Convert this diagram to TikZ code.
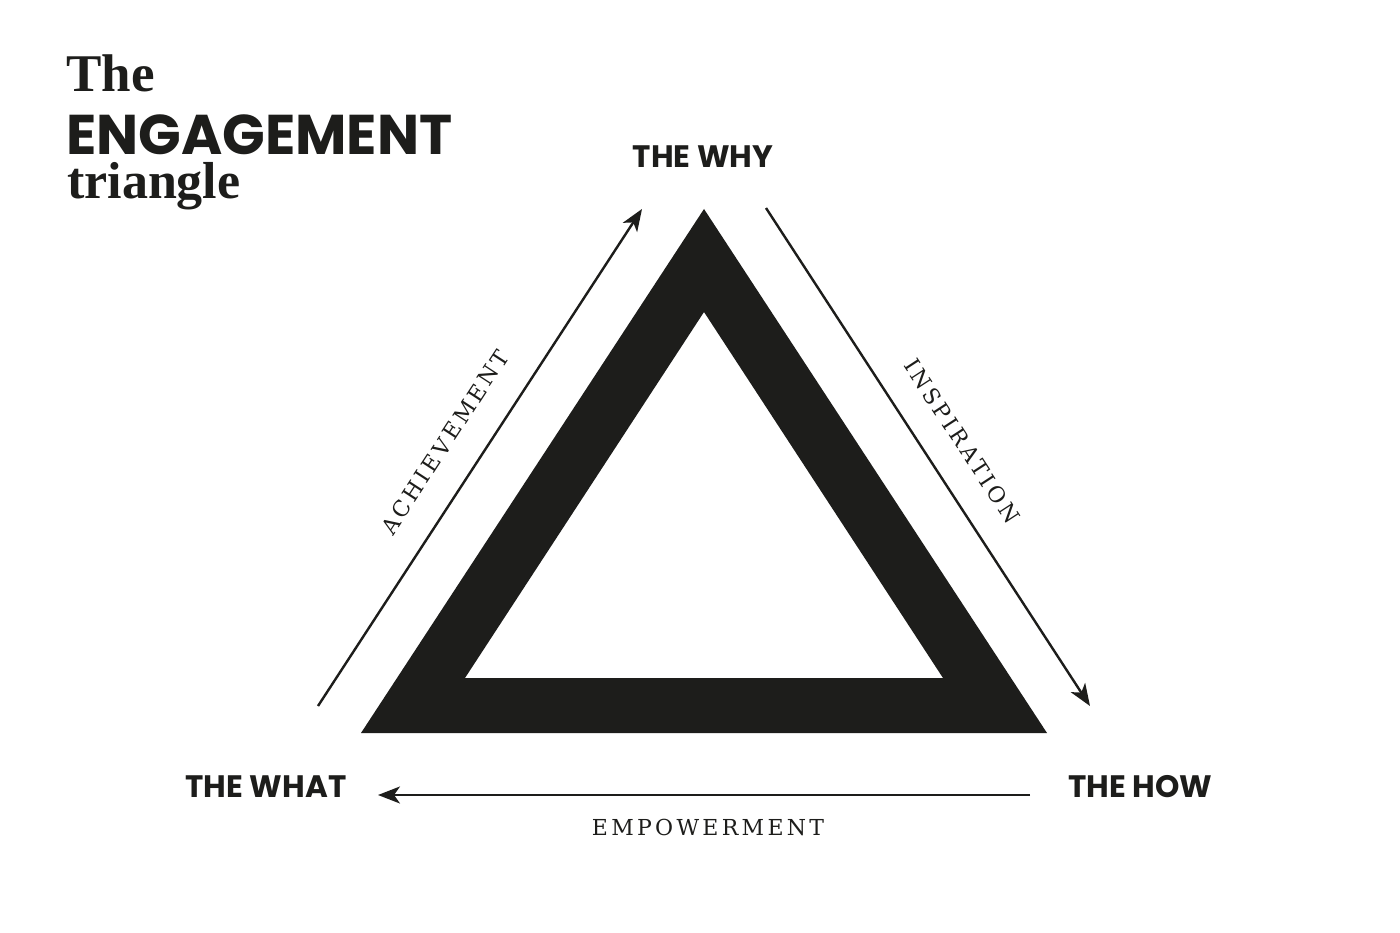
\documentclass[tikz,border=0pt]{standalone}
\usepackage{fontspec}
\usetikzlibrary{arrows.meta}
\newfontfamily\labfont{Poppins}[UprightFont=* Bold]
\newfontfamily\titleserif{Liberation Serif}[UprightFont=* Bold]
\newfontfamily\trackfont{DejaVu Serif}[LetterSpace=15]
\definecolor{ink}{HTML}{1D1D1B}
\tikzset{
  biglabel/.style={font=\labfont\fontsize{31}{34}\selectfont, text=ink, inner sep=0pt, anchor=base},
  titleline/.style={anchor=base west, inner sep=0pt, text=ink},
  flowlabel/.style={font=\trackfont\fontsize{22}{24}\selectfont, text=ink, inner sep=0pt},
  flow/.style={line width=2.4pt, draw=ink, -{Stealth[length=22pt,width=17pt,inset=6pt]}},
}
\begin{document}
\begin{tikzpicture}[x=1pt,y=-1pt]
\useasboundingbox[fill=white] (0,0) rectangle (1400,933);
% title
\node[titleline, font=\titleserif\fontsize{53}{58}\selectfont] (tThe) at (66,92) {The};
\node[titleline, font=\labfont\fontsize{56}{60}\selectfont] (tEng) at (66,155) {ENGAGEMENT};
\node[titleline, font=\titleserif\fontsize{52}{58}\selectfont] (tTri) at (67,199) {triangle};
% triangle
\coordinate (oA) at (704,209);
\coordinate (oL) at (361,733);
\coordinate (oR) at (1047,733);
\coordinate (iA) at (704,312);
\coordinate (iL) at (465,678);
\coordinate (iR) at (943,678);
\fill[ink, even odd rule] (oA) -- (oL) -- (oR) -- cycle (iA) -- (iL) -- (iR) -- cycle;
% corner labels
\node[biglabel] (why) at (703,168) {THE WHY};
\node[biglabel] (what) at (266,797) {THE WHAT};
\node[biglabel] (how) at (1140,797) {THE HOW};
% arrows
\coordinate (a1) at (318,706);
\coordinate (a2) at (642,209);
\coordinate (b1) at (766,208);
\coordinate (b2) at (1090,706);
\coordinate (c1) at (1030,795);
\coordinate (c2) at (378,795);
\draw[flow] (a1) -- (a2);
\draw[flow] (b1) -- (b2);
\draw[flow] (c1) -- (c2);
% flow labels
\node[flowlabel, rotate=56.9] (ach) at (445,442) {ACHIEVEMENT};
\node[flowlabel, rotate=-56.9] (ins) at (962,441) {INSPIRATION};
\node[flowlabel] (emp) at (708,827) {EMPOWERMENT};
\end{tikzpicture}
\end{document}
